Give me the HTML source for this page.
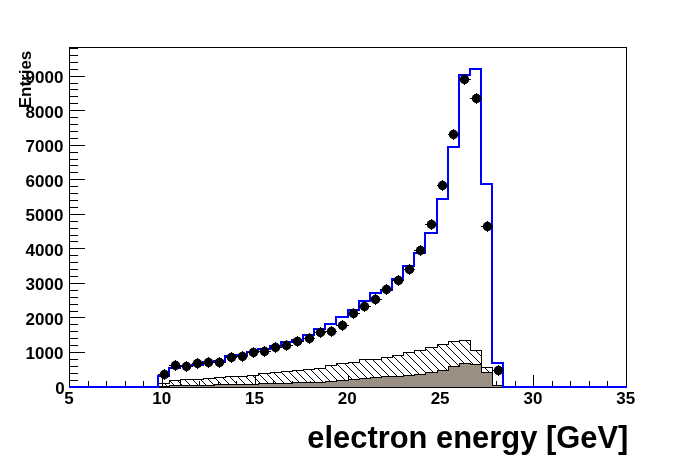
<!DOCTYPE html>
<html><head><meta charset="utf-8"><title>electron energy</title>
<style>html,body{margin:0;padding:0;background:#fff}svg{display:block}text{font-family:"Liberation Sans",sans-serif;font-weight:bold;fill:#000}</style></head><body>
<svg width="696" height="472" viewBox="0 0 696 472">
<rect width="696" height="472" fill="#fff"/>
<g shape-rendering="crispEdges" stroke="#000" stroke-width="1" fill="none">
<rect x="69.5" y="47.5" width="557" height="339.5"/>
<path d="M69.5,387.0v-12M88.5,387.0v-6M106.5,387.0v-6M125.5,387.0v-6M143.5,387.0v-6M162.5,387.0v-12M180.5,387.0v-6M199.5,387.0v-6M218.5,387.0v-6M236.5,387.0v-6M255.5,387.0v-12M273.5,387.0v-6M292.5,387.0v-6M310.5,387.0v-6M329.5,387.0v-6M348.5,387.0v-12M366.5,387.0v-6M385.5,387.0v-6M403.5,387.0v-6M422.5,387.0v-6M440.5,387.0v-12M459.5,387.0v-6M477.5,387.0v-6M496.5,387.0v-6M515.5,387.0v-6M533.5,387.0v-12M552.5,387.0v-6M570.5,387.0v-6M589.5,387.0v-6M607.5,387.0v-6M626.5,387.0v-12"/>
<path d="M69.5,387.5h15M69.5,380.5h8M69.5,373.5h8M69.5,366.5h8M69.5,359.5h8M69.5,352.5h15M69.5,345.5h8M69.5,338.5h8M69.5,331.5h8M69.5,324.5h8M69.5,317.5h15M69.5,311.5h8M69.5,304.5h8M69.5,297.5h8M69.5,290.5h8M69.5,283.5h15M69.5,276.5h8M69.5,269.5h8M69.5,262.5h8M69.5,255.5h8M69.5,248.5h15M69.5,241.5h8M69.5,235.5h8M69.5,228.5h8M69.5,221.5h8M69.5,214.5h15M69.5,207.5h8M69.5,200.5h8M69.5,193.5h8M69.5,186.5h8M69.5,179.5h15M69.5,172.5h8M69.5,165.5h8M69.5,159.5h8M69.5,152.5h8M69.5,145.5h15M69.5,138.5h8M69.5,131.5h8M69.5,124.5h8M69.5,117.5h8M69.5,110.5h15M69.5,103.5h8M69.5,96.5h8M69.5,89.5h8M69.5,83.5h8M69.5,76.5h15M69.5,69.5h8M69.5,62.5h8M69.5,55.5h8M69.5,48.5h8"/>
</g>
<path d="M159,386h1v1h-1zm1,1h1v1h-1zM165,384h1v1h-1zm1,1h1v1h-1zm1,1h1v1h-1zm1,1h1v1h-1zM170,381h1v1h-1zm1,1h1v1h-1zm1,1h1v1h-1zm1,1h1v1h-1zm1,1h1v1h-1zm1,1h1v1h-1zm1,1h1v1h-1zM178,381h1v1h-1zm1,1h1v1h-1zm1,1h1v1h-1zm1,1h1v1h-1zm1,1h1v1h-1zm1,1h1v1h-1zm1,1h1v1h-1zM185,380h1v1h-1zm1,1h1v1h-1zm1,1h1v1h-1zm1,1h1v1h-1zm1,1h1v1h-1zm1,1h1v1h-1zm1,1h1v1h-1zm1,1h1v1h-1zM192,379h1v1h-1zm1,1h1v1h-1zm1,1h1v1h-1zm1,1h1v1h-1zm1,1h1v1h-1zm1,1h1v1h-1zm1,1h1v1h-1zm1,1h1v1h-1zm1,1h1v1h-1zM200,379h1v1h-1zm1,1h1v1h-1zm1,1h1v1h-1zm1,1h1v1h-1zm1,1h1v1h-1zm1,1h1v1h-1zm1,1h1v1h-1zm1,1h1v1h-1zm1,1h1v1h-1zM207,378h1v1h-1zm1,1h1v1h-1zm1,1h1v1h-1zm1,1h1v1h-1zm1,1h1v1h-1zm1,1h1v1h-1zm1,1h1v1h-1zm1,1h1v1h-1zm1,1h1v1h-1zm1,1h1v1h-1zM214,377h1v1h-1zm1,1h1v1h-1zm1,1h1v1h-1zm1,1h1v1h-1zm1,1h1v1h-1zm1,1h1v1h-1zm1,1h1v1h-1zm1,1h1v1h-1zm1,1h1v1h-1zm1,1h1v1h-1zm1,1h1v1h-1zM222,377h1v1h-1zm1,1h1v1h-1zm1,1h1v1h-1zm1,1h1v1h-1zm1,1h1v1h-1zm1,1h1v1h-1zm1,1h1v1h-1zm1,1h1v1h-1zm1,1h1v1h-1zm1,1h1v1h-1zm1,1h1v1h-1zM229,376h1v1h-1zm1,1h1v1h-1zm1,1h1v1h-1zm1,1h1v1h-1zm1,1h1v1h-1zm1,1h1v1h-1zm1,1h1v1h-1zm1,1h1v1h-1zm1,1h1v1h-1zm1,1h1v1h-1zm1,1h1v1h-1zm1,1h1v1h-1zM238,377h1v1h-1zm1,1h1v1h-1zm1,1h1v1h-1zm1,1h1v1h-1zm1,1h1v1h-1zm1,1h1v1h-1zm1,1h1v1h-1zm1,1h1v1h-1zm1,1h1v1h-1zm1,1h1v1h-1zm1,1h1v1h-1zM246,377h1v1h-1zm1,1h1v1h-1zm1,1h1v1h-1zm1,1h1v1h-1zm1,1h1v1h-1zm1,1h1v1h-1zm1,1h1v1h-1zm1,1h1v1h-1zm1,1h1v1h-1zm1,1h1v1h-1zm1,1h1v1h-1zM253,376h1v1h-1zm1,1h1v1h-1zm1,1h1v1h-1zm1,1h1v1h-1zm1,1h1v1h-1zm1,1h1v1h-1zm1,1h1v1h-1zm1,1h1v1h-1zm1,1h1v1h-1zm1,1h1v1h-1zm1,1h1v1h-1zm1,1h1v1h-1zM259,374h1v1h-1zm1,1h1v1h-1zm1,1h1v1h-1zm1,1h1v1h-1zm1,1h1v1h-1zm1,1h1v1h-1zm1,1h1v1h-1zm1,1h1v1h-1zm1,1h1v1h-1zm1,1h1v1h-1zm1,1h1v1h-1zm1,1h1v1h-1zm1,1h1v1h-1zm1,1h1v1h-1zM266,373h1v1h-1zm1,1h1v1h-1zm1,1h1v1h-1zm1,1h1v1h-1zm1,1h1v1h-1zm1,1h1v1h-1zm1,1h1v1h-1zm1,1h1v1h-1zm1,1h1v1h-1zm1,1h1v1h-1zm1,1h1v1h-1zm1,1h1v1h-1zm1,1h1v1h-1zm1,1h1v1h-1zm1,1h1v1h-1zM273,372h1v1h-1zm1,1h1v1h-1zm1,1h1v1h-1zm1,1h1v1h-1zm1,1h1v1h-1zm1,1h1v1h-1zm1,1h1v1h-1zm1,1h1v1h-1zm1,1h1v1h-1zm1,1h1v1h-1zm1,1h1v1h-1zm1,1h1v1h-1zm1,1h1v1h-1zm1,1h1v1h-1zm1,1h1v1h-1zm1,1h1v1h-1zM281,372h1v1h-1zm1,1h1v1h-1zm1,1h1v1h-1zm1,1h1v1h-1zm1,1h1v1h-1zm1,1h1v1h-1zm1,1h1v1h-1zm1,1h1v1h-1zm1,1h1v1h-1zm1,1h1v1h-1zm1,1h1v1h-1zm1,1h1v1h-1zm1,1h1v1h-1zm1,1h1v1h-1zm1,1h1v1h-1zm1,1h1v1h-1zM288,371h1v1h-1zm1,1h1v1h-1zm1,1h1v1h-1zm1,1h1v1h-1zm1,1h1v1h-1zm1,1h1v1h-1zm1,1h1v1h-1zm1,1h1v1h-1zm1,1h1v1h-1zm1,1h1v1h-1zm1,1h1v1h-1zm1,1h1v1h-1zm1,1h1v1h-1zm1,1h1v1h-1zm1,1h1v1h-1zm1,1h1v1h-1zm1,1h1v1h-1zM295,370h1v1h-1zm1,1h1v1h-1zm1,1h1v1h-1zm1,1h1v1h-1zm1,1h1v1h-1zm1,1h1v1h-1zm1,1h1v1h-1zm1,1h1v1h-1zm1,1h1v1h-1zm1,1h1v1h-1zm1,1h1v1h-1zm1,1h1v1h-1zm1,1h1v1h-1zm1,1h1v1h-1zm1,1h1v1h-1zm1,1h1v1h-1zm1,1h1v1h-1zm1,1h1v1h-1zM303,370h1v1h-1zm1,1h1v1h-1zm1,1h1v1h-1zm1,1h1v1h-1zm1,1h1v1h-1zm1,1h1v1h-1zm1,1h1v1h-1zm1,1h1v1h-1zm1,1h1v1h-1zm1,1h1v1h-1zm1,1h1v1h-1zm1,1h1v1h-1zm1,1h1v1h-1zm1,1h1v1h-1zm1,1h1v1h-1zm1,1h1v1h-1zm1,1h1v1h-1zm1,1h1v1h-1zM311,370h1v1h-1zm1,1h1v1h-1zm1,1h1v1h-1zm1,1h1v1h-1zm1,1h1v1h-1zm1,1h1v1h-1zm1,1h1v1h-1zm1,1h1v1h-1zm1,1h1v1h-1zm1,1h1v1h-1zm1,1h1v1h-1zm1,1h1v1h-1zm1,1h1v1h-1zm1,1h1v1h-1zm1,1h1v1h-1zm1,1h1v1h-1zm1,1h1v1h-1zm1,1h1v1h-1zM317,368h1v1h-1zm1,1h1v1h-1zm1,1h1v1h-1zm1,1h1v1h-1zm1,1h1v1h-1zm1,1h1v1h-1zm1,1h1v1h-1zm1,1h1v1h-1zm1,1h1v1h-1zm1,1h1v1h-1zm1,1h1v1h-1zm1,1h1v1h-1zm1,1h1v1h-1zm1,1h1v1h-1zm1,1h1v1h-1zm1,1h1v1h-1zm1,1h1v1h-1zm1,1h1v1h-1zm1,1h1v1h-1zm1,1h1v1h-1zM325,368h1v1h-1zm1,1h1v1h-1zm1,1h1v1h-1zm1,1h1v1h-1zm1,1h1v1h-1zm1,1h1v1h-1zm1,1h1v1h-1zm1,1h1v1h-1zm1,1h1v1h-1zm1,1h1v1h-1zm1,1h1v1h-1zm1,1h1v1h-1zm1,1h1v1h-1zm1,1h1v1h-1zm1,1h1v1h-1zm1,1h1v1h-1zm1,1h1v1h-1zm1,1h1v1h-1zm1,1h1v1h-1zm1,1h1v1h-1zM331,366h1v1h-1zm1,1h1v1h-1zm1,1h1v1h-1zm1,1h1v1h-1zm1,1h1v1h-1zm1,1h1v1h-1zm1,1h1v1h-1zm1,1h1v1h-1zm1,1h1v1h-1zm1,1h1v1h-1zm1,1h1v1h-1zm1,1h1v1h-1zm1,1h1v1h-1zm1,1h1v1h-1zm1,1h1v1h-1zm1,1h1v1h-1zm1,1h1v1h-1zm1,1h1v1h-1zm1,1h1v1h-1zm1,1h1v1h-1zm1,1h1v1h-1zm1,1h1v1h-1zM337,364h1v1h-1zm1,1h1v1h-1zm1,1h1v1h-1zm1,1h1v1h-1zm1,1h1v1h-1zm1,1h1v1h-1zm1,1h1v1h-1zm1,1h1v1h-1zm1,1h1v1h-1zm1,1h1v1h-1zm1,1h1v1h-1zm1,1h1v1h-1zm1,1h1v1h-1zm1,1h1v1h-1zm1,1h1v1h-1zm1,1h1v1h-1zm1,1h1v1h-1zm1,1h1v1h-1zm1,1h1v1h-1zm1,1h1v1h-1zm1,1h1v1h-1zm1,1h1v1h-1zm1,1h1v1h-1zm1,1h1v1h-1zM344,363h1v1h-1zm1,1h1v1h-1zm1,1h1v1h-1zm1,1h1v1h-1zm1,1h1v1h-1zm1,1h1v1h-1zm1,1h1v1h-1zm1,1h1v1h-1zm1,1h1v1h-1zm1,1h1v1h-1zm1,1h1v1h-1zm1,1h1v1h-1zm1,1h1v1h-1zm1,1h1v1h-1zm1,1h1v1h-1zm1,1h1v1h-1zm1,1h1v1h-1zm1,1h1v1h-1zm1,1h1v1h-1zm1,1h1v1h-1zm1,1h1v1h-1zm1,1h1v1h-1zm1,1h1v1h-1zm1,1h1v1h-1zm1,1h1v1h-1zM351,362h1v1h-1zm1,1h1v1h-1zm1,1h1v1h-1zm1,1h1v1h-1zm1,1h1v1h-1zm1,1h1v1h-1zm1,1h1v1h-1zm1,1h1v1h-1zm1,1h1v1h-1zm1,1h1v1h-1zm1,1h1v1h-1zm1,1h1v1h-1zm1,1h1v1h-1zm1,1h1v1h-1zm1,1h1v1h-1zm1,1h1v1h-1zm1,1h1v1h-1zm1,1h1v1h-1zm1,1h1v1h-1zm1,1h1v1h-1zm1,1h1v1h-1zm1,1h1v1h-1zm1,1h1v1h-1zm1,1h1v1h-1zm1,1h1v1h-1zm1,1h1v1h-1zM359,362h1v1h-1zm1,1h1v1h-1zm1,1h1v1h-1zm1,1h1v1h-1zm1,1h1v1h-1zm1,1h1v1h-1zm1,1h1v1h-1zm1,1h1v1h-1zm1,1h1v1h-1zm1,1h1v1h-1zm1,1h1v1h-1zm1,1h1v1h-1zm1,1h1v1h-1zm1,1h1v1h-1zm1,1h1v1h-1zm1,1h1v1h-1zm1,1h1v1h-1zm1,1h1v1h-1zm1,1h1v1h-1zm1,1h1v1h-1zm1,1h1v1h-1zm1,1h1v1h-1zm1,1h1v1h-1zm1,1h1v1h-1zm1,1h1v1h-1zm1,1h1v1h-1zM365,360h1v1h-1zm1,1h1v1h-1zm1,1h1v1h-1zm1,1h1v1h-1zm1,1h1v1h-1zm1,1h1v1h-1zm1,1h1v1h-1zm1,1h1v1h-1zm1,1h1v1h-1zm1,1h1v1h-1zm1,1h1v1h-1zm1,1h1v1h-1zm1,1h1v1h-1zm1,1h1v1h-1zm1,1h1v1h-1zm1,1h1v1h-1zm1,1h1v1h-1zm1,1h1v1h-1zm1,1h1v1h-1zm1,1h1v1h-1zm1,1h1v1h-1zm1,1h1v1h-1zm1,1h1v1h-1zm1,1h1v1h-1zm1,1h1v1h-1zm1,1h1v1h-1zm1,1h1v1h-1zm1,1h1v1h-1zM373,360h1v1h-1zm1,1h1v1h-1zm1,1h1v1h-1zm1,1h1v1h-1zm1,1h1v1h-1zm1,1h1v1h-1zm1,1h1v1h-1zm1,1h1v1h-1zm1,1h1v1h-1zm1,1h1v1h-1zm1,1h1v1h-1zm1,1h1v1h-1zm1,1h1v1h-1zm1,1h1v1h-1zm1,1h1v1h-1zm1,1h1v1h-1zm1,1h1v1h-1zm1,1h1v1h-1zm1,1h1v1h-1zm1,1h1v1h-1zm1,1h1v1h-1zm1,1h1v1h-1zm1,1h1v1h-1zm1,1h1v1h-1zm1,1h1v1h-1zm1,1h1v1h-1zm1,1h1v1h-1zm1,1h1v1h-1zM381,360h1v1h-1zm1,1h1v1h-1zm1,1h1v1h-1zm1,1h1v1h-1zm1,1h1v1h-1zm1,1h1v1h-1zm1,1h1v1h-1zm1,1h1v1h-1zm1,1h1v1h-1zm1,1h1v1h-1zm1,1h1v1h-1zm1,1h1v1h-1zm1,1h1v1h-1zm1,1h1v1h-1zm1,1h1v1h-1zm1,1h1v1h-1zm1,1h1v1h-1zm1,1h1v1h-1zm1,1h1v1h-1zm1,1h1v1h-1zm1,1h1v1h-1zm1,1h1v1h-1zm1,1h1v1h-1zm1,1h1v1h-1zm1,1h1v1h-1zm1,1h1v1h-1zm1,1h1v1h-1zm1,1h1v1h-1zM387,358h1v1h-1zm1,1h1v1h-1zm1,1h1v1h-1zm1,1h1v1h-1zm1,1h1v1h-1zm1,1h1v1h-1zm1,1h1v1h-1zm1,1h1v1h-1zm1,1h1v1h-1zm1,1h1v1h-1zm1,1h1v1h-1zm1,1h1v1h-1zm1,1h1v1h-1zm1,1h1v1h-1zm1,1h1v1h-1zm1,1h1v1h-1zm1,1h1v1h-1zm1,1h1v1h-1zm1,1h1v1h-1zm1,1h1v1h-1zm1,1h1v1h-1zm1,1h1v1h-1zm1,1h1v1h-1zm1,1h1v1h-1zm1,1h1v1h-1zm1,1h1v1h-1zm1,1h1v1h-1zm1,1h1v1h-1zm1,1h1v1h-1zm1,1h1v1h-1zM393,356h1v1h-1zm1,1h1v1h-1zm1,1h1v1h-1zm1,1h1v1h-1zm1,1h1v1h-1zm1,1h1v1h-1zm1,1h1v1h-1zm1,1h1v1h-1zm1,1h1v1h-1zm1,1h1v1h-1zm1,1h1v1h-1zm1,1h1v1h-1zm1,1h1v1h-1zm1,1h1v1h-1zm1,1h1v1h-1zm1,1h1v1h-1zm1,1h1v1h-1zm1,1h1v1h-1zm1,1h1v1h-1zm1,1h1v1h-1zm1,1h1v1h-1zm1,1h1v1h-1zm1,1h1v1h-1zm1,1h1v1h-1zm1,1h1v1h-1zm1,1h1v1h-1zm1,1h1v1h-1zm1,1h1v1h-1zm1,1h1v1h-1zm1,1h1v1h-1zm1,1h1v1h-1zm1,1h1v1h-1zM401,356h1v1h-1zm1,1h1v1h-1zm1,1h1v1h-1zm1,1h1v1h-1zm1,1h1v1h-1zm1,1h1v1h-1zm1,1h1v1h-1zm1,1h1v1h-1zm1,1h1v1h-1zm1,1h1v1h-1zm1,1h1v1h-1zm1,1h1v1h-1zm1,1h1v1h-1zm1,1h1v1h-1zm1,1h1v1h-1zm1,1h1v1h-1zm1,1h1v1h-1zm1,1h1v1h-1zm1,1h1v1h-1zm1,1h1v1h-1zm1,1h1v1h-1zm1,1h1v1h-1zm1,1h1v1h-1zm1,1h1v1h-1zm1,1h1v1h-1zm1,1h1v1h-1zm1,1h1v1h-1zm1,1h1v1h-1zm1,1h1v1h-1zm1,1h1v1h-1zm1,1h1v1h-1zm1,1h1v1h-1zM406,353h1v1h-1zm1,1h1v1h-1zm1,1h1v1h-1zm1,1h1v1h-1zm1,1h1v1h-1zm1,1h1v1h-1zm1,1h1v1h-1zm1,1h1v1h-1zm1,1h1v1h-1zm1,1h1v1h-1zm1,1h1v1h-1zm1,1h1v1h-1zm1,1h1v1h-1zm1,1h1v1h-1zm1,1h1v1h-1zm1,1h1v1h-1zm1,1h1v1h-1zm1,1h1v1h-1zm1,1h1v1h-1zm1,1h1v1h-1zm1,1h1v1h-1zm1,1h1v1h-1zm1,1h1v1h-1zm1,1h1v1h-1zm1,1h1v1h-1zm1,1h1v1h-1zm1,1h1v1h-1zm1,1h1v1h-1zm1,1h1v1h-1zm1,1h1v1h-1zm1,1h1v1h-1zm1,1h1v1h-1zm1,1h1v1h-1zm1,1h1v1h-1zm1,1h1v1h-1zM414,353h1v1h-1zm1,1h1v1h-1zm1,1h1v1h-1zm1,1h1v1h-1zm1,1h1v1h-1zm1,1h1v1h-1zm1,1h1v1h-1zm1,1h1v1h-1zm1,1h1v1h-1zm1,1h1v1h-1zm1,1h1v1h-1zm1,1h1v1h-1zm1,1h1v1h-1zm1,1h1v1h-1zm1,1h1v1h-1zm1,1h1v1h-1zm1,1h1v1h-1zm1,1h1v1h-1zm1,1h1v1h-1zm1,1h1v1h-1zm1,1h1v1h-1zm1,1h1v1h-1zm1,1h1v1h-1zm1,1h1v1h-1zm1,1h1v1h-1zm1,1h1v1h-1zm1,1h1v1h-1zm1,1h1v1h-1zm1,1h1v1h-1zm1,1h1v1h-1zm1,1h1v1h-1zm1,1h1v1h-1zm1,1h1v1h-1zm1,1h1v1h-1zm1,1h1v1h-1zM419,350h1v1h-1zm1,1h1v1h-1zm1,1h1v1h-1zm1,1h1v1h-1zm1,1h1v1h-1zm1,1h1v1h-1zm1,1h1v1h-1zm1,1h1v1h-1zm1,1h1v1h-1zm1,1h1v1h-1zm1,1h1v1h-1zm1,1h1v1h-1zm1,1h1v1h-1zm1,1h1v1h-1zm1,1h1v1h-1zm1,1h1v1h-1zm1,1h1v1h-1zm1,1h1v1h-1zm1,1h1v1h-1zm1,1h1v1h-1zm1,1h1v1h-1zm1,1h1v1h-1zm1,1h1v1h-1zm1,1h1v1h-1zm1,1h1v1h-1zm1,1h1v1h-1zm1,1h1v1h-1zm1,1h1v1h-1zm1,1h1v1h-1zm1,1h1v1h-1zm1,1h1v1h-1zm1,1h1v1h-1zm1,1h1v1h-1zm1,1h1v1h-1zm1,1h1v1h-1zm1,1h1v1h-1zm1,1h1v1h-1zm1,1h1v1h-1zM426,349h1v1h-1zm1,1h1v1h-1zm1,1h1v1h-1zm1,1h1v1h-1zm1,1h1v1h-1zm1,1h1v1h-1zm1,1h1v1h-1zm1,1h1v1h-1zm1,1h1v1h-1zm1,1h1v1h-1zm1,1h1v1h-1zm1,1h1v1h-1zm1,1h1v1h-1zm1,1h1v1h-1zm1,1h1v1h-1zm1,1h1v1h-1zm1,1h1v1h-1zm1,1h1v1h-1zm1,1h1v1h-1zm1,1h1v1h-1zm1,1h1v1h-1zm1,1h1v1h-1zm1,1h1v1h-1zm1,1h1v1h-1zm1,1h1v1h-1zm1,1h1v1h-1zm1,1h1v1h-1zm1,1h1v1h-1zm1,1h1v1h-1zm1,1h1v1h-1zm1,1h1v1h-1zm1,1h1v1h-1zm1,1h1v1h-1zm1,1h1v1h-1zm1,1h1v1h-1zm1,1h1v1h-1zm1,1h1v1h-1zm1,1h1v1h-1zm1,1h1v1h-1zM432,347h1v1h-1zm1,1h1v1h-1zm1,1h1v1h-1zm1,1h1v1h-1zm1,1h1v1h-1zm1,1h1v1h-1zm1,1h1v1h-1zm1,1h1v1h-1zm1,1h1v1h-1zm1,1h1v1h-1zm1,1h1v1h-1zm1,1h1v1h-1zm1,1h1v1h-1zm1,1h1v1h-1zm1,1h1v1h-1zm1,1h1v1h-1zm1,1h1v1h-1zm1,1h1v1h-1zm1,1h1v1h-1zm1,1h1v1h-1zm1,1h1v1h-1zm1,1h1v1h-1zm1,1h1v1h-1zm1,1h1v1h-1zm1,1h1v1h-1zm1,1h1v1h-1zm1,1h1v1h-1zm1,1h1v1h-1zm1,1h1v1h-1zm1,1h1v1h-1zm1,1h1v1h-1zm1,1h1v1h-1zm1,1h1v1h-1zm1,1h1v1h-1zm1,1h1v1h-1zm1,1h1v1h-1zm1,1h1v1h-1zm1,1h1v1h-1zm1,1h1v1h-1zm1,1h1v1h-1zm1,1h1v1h-1zM438,345h1v1h-1zm1,1h1v1h-1zm1,1h1v1h-1zm1,1h1v1h-1zm1,1h1v1h-1zm1,1h1v1h-1zm1,1h1v1h-1zm1,1h1v1h-1zm1,1h1v1h-1zm1,1h1v1h-1zm1,1h1v1h-1zm1,1h1v1h-1zm1,1h1v1h-1zm1,1h1v1h-1zm1,1h1v1h-1zm1,1h1v1h-1zm1,1h1v1h-1zm1,1h1v1h-1zm1,1h1v1h-1zm1,1h1v1h-1zm1,1h1v1h-1zm1,1h1v1h-1zm1,1h1v1h-1zm1,1h1v1h-1zm1,1h1v1h-1zm1,1h1v1h-1zm1,1h1v1h-1zm1,1h1v1h-1zm1,1h1v1h-1zm1,1h1v1h-1zm1,1h1v1h-1zm1,1h1v1h-1zm1,1h1v1h-1zm1,1h1v1h-1zm1,1h1v1h-1zm1,1h1v1h-1zm1,1h1v1h-1zm1,1h1v1h-1zm1,1h1v1h-1zm1,1h1v1h-1zm1,1h1v1h-1zm1,1h1v1h-1zm1,1h1v1h-1zM446,345h1v1h-1zm1,1h1v1h-1zm1,1h1v1h-1zm1,1h1v1h-1zm1,1h1v1h-1zm1,1h1v1h-1zm1,1h1v1h-1zm1,1h1v1h-1zm1,1h1v1h-1zm1,1h1v1h-1zm1,1h1v1h-1zm1,1h1v1h-1zm1,1h1v1h-1zm1,1h1v1h-1zm1,1h1v1h-1zm1,1h1v1h-1zm1,1h1v1h-1zm1,1h1v1h-1zm1,1h1v1h-1zm1,1h1v1h-1zm1,1h1v1h-1zm1,1h1v1h-1zm1,1h1v1h-1zm1,1h1v1h-1zm1,1h1v1h-1zm1,1h1v1h-1zm1,1h1v1h-1zm1,1h1v1h-1zm1,1h1v1h-1zm1,1h1v1h-1zm1,1h1v1h-1zm1,1h1v1h-1zm1,1h1v1h-1zm1,1h1v1h-1zm1,1h1v1h-1zm1,1h1v1h-1zm1,1h1v1h-1zm1,1h1v1h-1zm1,1h1v1h-1zm1,1h1v1h-1zm1,1h1v1h-1zm1,1h1v1h-1zm1,1h1v1h-1zM450,341h1v1h-1zm1,1h1v1h-1zm1,1h1v1h-1zm1,1h1v1h-1zm1,1h1v1h-1zm1,1h1v1h-1zm1,1h1v1h-1zm1,1h1v1h-1zm1,1h1v1h-1zm1,1h1v1h-1zm1,1h1v1h-1zm1,1h1v1h-1zm1,1h1v1h-1zm1,1h1v1h-1zm1,1h1v1h-1zm1,1h1v1h-1zm1,1h1v1h-1zm1,1h1v1h-1zm1,1h1v1h-1zm1,1h1v1h-1zm1,1h1v1h-1zm1,1h1v1h-1zm1,1h1v1h-1zm1,1h1v1h-1zm1,1h1v1h-1zm1,1h1v1h-1zm1,1h1v1h-1zm1,1h1v1h-1zm1,1h1v1h-1zm1,1h1v1h-1zm1,1h1v1h-1zm1,1h1v1h-1zm1,1h1v1h-1zm1,1h1v1h-1zm1,1h1v1h-1zm1,1h1v1h-1zm1,1h1v1h-1zm1,1h1v1h-1zm1,1h1v1h-1zm1,1h1v1h-1zm1,1h1v1h-1zm1,1h1v1h-1zm1,1h1v1h-1zM495,386h1v1h-1zm1,1h1v1h-1zM458,341h1v1h-1zm1,1h1v1h-1zm1,1h1v1h-1zm1,1h1v1h-1zm1,1h1v1h-1zm1,1h1v1h-1zm1,1h1v1h-1zm1,1h1v1h-1zm1,1h1v1h-1zm1,1h1v1h-1zm1,1h1v1h-1zm1,1h1v1h-1zm1,1h1v1h-1zm1,1h1v1h-1zm1,1h1v1h-1zm1,1h1v1h-1zm1,1h1v1h-1zm1,1h1v1h-1zm1,1h1v1h-1zm1,1h1v1h-1zm1,1h1v1h-1zm1,1h1v1h-1zm1,1h1v1h-1zm1,1h1v1h-1zM485,368h1v1h-1zm1,1h1v1h-1zm1,1h1v1h-1zm1,1h1v1h-1zm1,1h1v1h-1zm1,1h1v1h-1zm1,1h1v1h-1zm1,1h1v1h-1zM503,386h1v1h-1zM466,341h1v1h-1zm1,1h1v1h-1zm1,1h1v1h-1zm1,1h1v1h-1zM476,351h1v1h-1zm1,1h1v1h-1zm1,1h1v1h-1zm1,1h1v1h-1zm1,1h1v1h-1zm1,1h1v1h-1z" fill="#000" stroke="none" shape-rendering="crispEdges"/>
<path d="M158.5,387.5V383.5H169.5V380.5H180.5V379.5H192.5V379.5H203.5V378.5H214.5V377.5H225.5V376.5H236.5V376.5H247.5V375.5H258.5V373.5H270.5V372.5H281.5V371.5H292.5V370.5H303.5V369.5H314.5V368.5H325.5V365.5H336.5V363.5H348.5V362.5H359.5V359.5H370.5V359.5H381.5V357.5H392.5V355.5H403.5V352.5H414.5V350.5H425.5V347.5H437.5V344.5H448.5V341.5H459.5V340.5H470.5V350.5H481.5V367.5H492.5V385.5H503.5V387.5Z" fill="none" stroke="#000" stroke-width="1" shape-rendering="crispEdges"/>
<path d="M158.5,387.5V386.5H169.5V385.5H180.5V385.5H192.5V385.5H203.5V385.5H214.5V384.5H225.5V384.5H236.5V384.5H247.5V384.5H258.5V383.5H270.5V383.5H281.5V383.5H292.5V382.5H303.5V382.5H314.5V382.5H325.5V381.5H336.5V380.5H348.5V379.5H359.5V378.5H370.5V377.5H381.5V376.5H392.5V376.5H403.5V375.5H414.5V374.5H425.5V372.5H437.5V370.5H448.5V366.5H459.5V363.5H470.5V364.5H481.5V372.5H492.5V385.5H503.5V387.5Z" fill="#9b8f83" stroke="#000" stroke-width="1" shape-rendering="crispEdges"/>
<path d="M69,387L158,387V376H169V368H180V366H192V365H203V362H214V361H225V356H236V355H247V352H258V349H270V346H281V342H292V340H303V335H314V329H325V324H336V317H348V310H359V301H370V293H381V290H392V279H403V266H414V253H425V233H437V199H448V147H459V75H470V69H481V184H492V363H503V387H627" fill="none" stroke="#0000ff" stroke-width="2" shape-rendering="crispEdges"/>
<g fill="#000" stroke="#000">
<path d="M158,374.5H170M164.5,369.0v11" stroke-width="1" shape-rendering="crispEdges"/><circle cx="164.5" cy="374.5" r="4.75" stroke="none"/>
<path d="M169,365.5H181M175.5,360.0v11" stroke-width="1" shape-rendering="crispEdges"/><circle cx="175.5" cy="365.5" r="4.75" stroke="none"/>
<path d="M180,366.5H193M186.5,361.0v11" stroke-width="1" shape-rendering="crispEdges"/><circle cx="186.5" cy="366.5" r="4.75" stroke="none"/>
<path d="M192,363.5H204M197.5,358.0v11" stroke-width="1" shape-rendering="crispEdges"/><circle cx="197.5" cy="363.5" r="4.75" stroke="none"/>
<path d="M203,362.5H215M208.5,357.0v11" stroke-width="1" shape-rendering="crispEdges"/><circle cx="208.5" cy="362.5" r="4.75" stroke="none"/>
<path d="M214,362.5H226M219.5,357.0v11" stroke-width="1" shape-rendering="crispEdges"/><circle cx="219.5" cy="362.5" r="4.75" stroke="none"/>
<path d="M225,357.5H237M231.5,352.0v11" stroke-width="1" shape-rendering="crispEdges"/><circle cx="231.5" cy="357.5" r="4.75" stroke="none"/>
<path d="M236,356.5H248M242.5,351.0v11" stroke-width="1" shape-rendering="crispEdges"/><circle cx="242.5" cy="356.5" r="4.75" stroke="none"/>
<path d="M247,352.5H259M253.5,347.0v11" stroke-width="1" shape-rendering="crispEdges"/><circle cx="253.5" cy="352.5" r="4.75" stroke="none"/>
<path d="M258,351.5H271M264.5,346.0v11" stroke-width="1" shape-rendering="crispEdges"/><circle cx="264.5" cy="351.5" r="4.75" stroke="none"/>
<path d="M270,347.5H282M275.5,342.0v11" stroke-width="1" shape-rendering="crispEdges"/><circle cx="275.5" cy="347.5" r="4.75" stroke="none"/>
<path d="M281,345.5H293M286.5,340.0v11" stroke-width="1" shape-rendering="crispEdges"/><circle cx="286.5" cy="345.5" r="4.75" stroke="none"/>
<path d="M292,341.5H304M297.5,336.0v11" stroke-width="1" shape-rendering="crispEdges"/><circle cx="297.5" cy="341.5" r="4.75" stroke="none"/>
<path d="M303,338.5H315M309.5,333.0v11" stroke-width="1" shape-rendering="crispEdges"/><circle cx="309.5" cy="338.5" r="4.75" stroke="none"/>
<path d="M314,332.5H326M320.5,327.0v11" stroke-width="1" shape-rendering="crispEdges"/><circle cx="320.5" cy="332.5" r="4.75" stroke="none"/>
<path d="M325,331.5H337M331.5,326.0v11" stroke-width="1" shape-rendering="crispEdges"/><circle cx="331.5" cy="331.5" r="4.75" stroke="none"/>
<path d="M336,325.5H349M342.5,320.0v11" stroke-width="1" shape-rendering="crispEdges"/><circle cx="342.5" cy="325.5" r="4.75" stroke="none"/>
<path d="M348,313.5H360M353.5,308.0v11" stroke-width="1" shape-rendering="crispEdges"/><circle cx="353.5" cy="313.5" r="4.75" stroke="none"/>
<path d="M359,306.5H371M364.5,301.0v11" stroke-width="1" shape-rendering="crispEdges"/><circle cx="364.5" cy="306.5" r="4.75" stroke="none"/>
<path d="M370,299.5H382M375.5,294.0v11" stroke-width="1" shape-rendering="crispEdges"/><circle cx="375.5" cy="299.5" r="4.75" stroke="none"/>
<path d="M381,289.5H393M386.5,284.0v11" stroke-width="1" shape-rendering="crispEdges"/><circle cx="386.5" cy="289.5" r="4.75" stroke="none"/>
<path d="M392,280.5H404M398.5,275.0v11" stroke-width="1" shape-rendering="crispEdges"/><circle cx="398.5" cy="280.5" r="4.75" stroke="none"/>
<path d="M403,269.5H415M409.5,264.0v11" stroke-width="1" shape-rendering="crispEdges"/><circle cx="409.5" cy="269.5" r="4.75" stroke="none"/>
<path d="M414,250.5H426M420.5,245.0v11" stroke-width="1" shape-rendering="crispEdges"/><circle cx="420.5" cy="250.5" r="4.75" stroke="none"/>
<path d="M425,224.5H438M431.5,219.0v11" stroke-width="1" shape-rendering="crispEdges"/><circle cx="431.5" cy="224.5" r="4.75" stroke="none"/>
<path d="M437,185.5H449M442.5,180.0v11" stroke-width="1" shape-rendering="crispEdges"/><circle cx="442.5" cy="185.5" r="4.75" stroke="none"/>
<path d="M448,134.5H460M453.5,129.0v11" stroke-width="1" shape-rendering="crispEdges"/><circle cx="453.5" cy="134.5" r="4.75" stroke="none"/>
<path d="M459,79.5H471M464.5,74.0v11" stroke-width="1" shape-rendering="crispEdges"/><circle cx="464.5" cy="79.5" r="4.75" stroke="none"/>
<path d="M470,98.5H482M476.5,93.0v11" stroke-width="1" shape-rendering="crispEdges"/><circle cx="476.5" cy="98.5" r="4.75" stroke="none"/>
<path d="M481,226.5H493M487.5,221.0v11" stroke-width="1" shape-rendering="crispEdges"/><circle cx="487.5" cy="226.5" r="4.75" stroke="none"/>
<path d="M492,370.5H504M498.5,365.0v11" stroke-width="1" shape-rendering="crispEdges"/><circle cx="498.5" cy="370.5" r="4.75" stroke="none"/>
</g>
<g font-size="17px" text-anchor="middle">
<text x="68.9" y="404.3">5</text>
<text x="161.7" y="404.3">10</text>
<text x="254.5" y="404.3">15</text>
<text x="347.3" y="404.3">20</text>
<text x="440.1" y="404.3">25</text>
<text x="532.9" y="404.3">30</text>
<text x="625.7" y="404.3">35</text>
</g>
<g font-size="17px" text-anchor="end">
<text x="64.7" y="393.9">0</text>
<text x="63.4" y="359.4">1000</text>
<text x="63.4" y="324.8">2000</text>
<text x="63.4" y="290.3">3000</text>
<text x="63.4" y="255.7">4000</text>
<text x="63.4" y="221.2">5000</text>
<text x="63.4" y="186.6">6000</text>
<text x="63.4" y="152.1">7000</text>
<text x="63.4" y="117.5">8000</text>
<text x="63.4" y="83.0">9000</text>
</g>
<text font-size="17px" text-anchor="end" transform="translate(31.3,50.7) rotate(-90)">Entries</text>
<text font-size="30.9px" text-anchor="end" x="628.3" y="447.5">electron energy [GeV]</text>
</svg></body></html>
